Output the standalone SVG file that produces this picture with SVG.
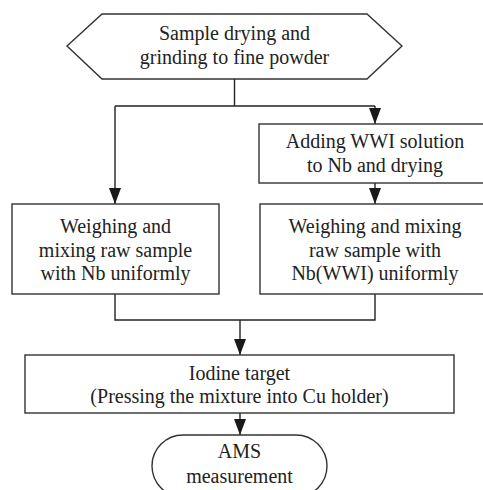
<svg xmlns="http://www.w3.org/2000/svg" width="483" height="490" viewBox="0 0 483 490">
<defs>
<marker id="ah" viewBox="0 0 16 12" markerUnits="userSpaceOnUse" markerWidth="16" markerHeight="12" refX="16" refY="6" orient="auto">
<path d="M0,0 L16,6 L0,12 z" fill="#1a1a1a"/>
</marker>
<style>
.n{fill:#fff;stroke:#333;stroke-width:1.4}
.c{fill:none;stroke:#222;stroke-width:1.4}
.a{marker-end:url(#ah)}
text{font-family:"Liberation Serif","Times New Roman",serif;font-size:20px;fill:#222;text-anchor:middle}
</style>
</defs>
<rect width="483" height="490" fill="#fff"/>
<g id="connectors">
<path class="c" d="M234.5,79 V106 M115,106 H375"/>
<path class="c a" d="M115,106 V204"/>
<path class="c a" d="M375,106 V124"/>
<path class="c a" d="M375,183 V204"/>
<path class="c" d="M115,294 V320 H375 V294"/>
<path class="c a" d="M240,320 V355"/>
<path class="c a" d="M240,413 V435"/>
</g>
<g id="start">
<polygon class="n" points="67,46 102,14 367,14 402,46 367,79 102,79"/>
<text x="234.5" y="40">Sample drying and</text>
<text x="234.5" y="64">grinding to fine powder</text>
</g>
<g id="adding">
<rect class="n" x="259" y="124" width="232" height="59"/>
<text x="375" y="148">Adding WWI solution</text>
<text x="375" y="172">to Nb and drying</text>
</g>
<g id="mixnb">
<rect class="n" x="12" y="204" width="207" height="90"/>
<text x="115.5" y="233">Weighing and</text>
<text x="115.5" y="257">mixing raw sample</text>
<text x="115.5" y="280">with Nb uniformly</text>
</g>
<g id="mixwwi">
<rect class="n" x="260" y="204" width="231" height="90"/>
<text x="375" y="233">Weighing and mixing</text>
<text x="375" y="257">raw sample with</text>
<text x="375" y="280">Nb(WWI) uniformly</text>
</g>
<g id="iodine">
<rect class="n" x="25" y="355" width="429" height="58"/>
<text x="239.5" y="380">Iodine target</text>
<text x="239.5" y="403">(Pressing the mixture into Cu holder)</text>
</g>
<g id="ams">
<rect class="n" x="152" y="435" width="175" height="62" rx="31" ry="31"/>
<text x="239.5" y="458">AMS</text>
<text x="239.5" y="483">measurement</text>
</g>
</svg>
